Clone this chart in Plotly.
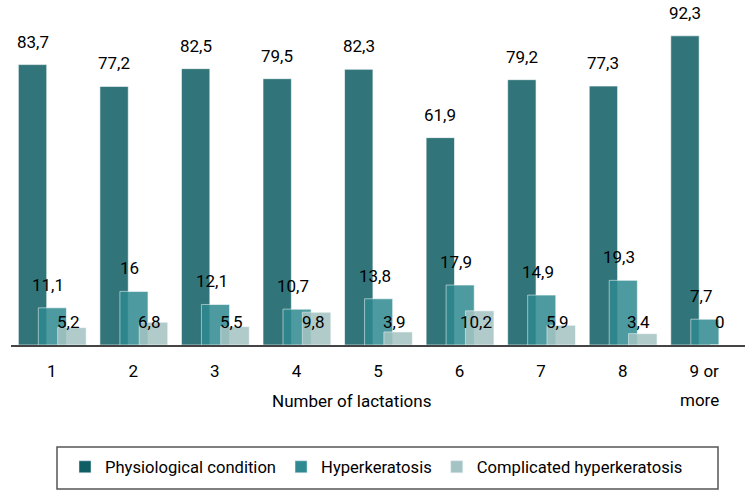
import plotly.graph_objects as go

categories = ["1", "2", "3", "4", "5", "6", "7", "8", "9 or more"]
tick_labels = ["1", "2", "3", "4", "5", "6", "7", "8", "9 or"]
physiological = [83.7, 77.2, 82.5, 79.5, 82.3, 61.9, 79.2, 77.3, 92.3]
hyperkeratosis = [11.1, 16, 12.1, 10.7, 13.8, 17.9, 14.9, 19.3, 7.7]
complicated = [5.2, 6.8, 5.5, 9.8, 3.9, 10.2, 5.9, 3.4, 0]
series_names = ["Physiological condition", "Hyperkeratosis", "Complicated hyperkeratosis"]

legend_colors = ["#0e5e63", "#2e8a90", "#a4c3c3"]
offsets = [-0.41, -0.165, 0.072]
widths = [0.348, 0.345, 0.35]
label_dx = [0, -4, -4]

FONT = "Roboto"
FS = 17
TXT = "#000"
fig = go.Figure()
x_idx = list(range(len(categories)))
all_series = [physiological, hyperkeratosis, complicated]

for s, vals in enumerate(all_series):
    fig.add_trace(go.Bar(
        x=x_idx, y=vals, offset=offsets[s], width=widths[s],
        marker=dict(color=legend_colors[s], opacity=0.85,
                    line=dict(color="rgba(255,255,255,0.6)", width=1)),
        showlegend=False, hoverinfo="skip"))

for s in range(3):
    fig.add_trace(go.Bar(x=[None], y=[None], name=series_names[s],
                         marker=dict(color=legend_colors[s]), showlegend=True))

annotations = []
for s, vals in enumerate(all_series):
    for i, v in enumerate(vals):
        annotations.append(dict(
            x=i + offsets[s] + widths[s] / 2, y=(v if s < 2 else 0),
            xref="x", yref="y", text=f"{v:g}".replace(".", ","),
            showarrow=False, yanchor="bottom", xanchor="center",
            xshift=label_dx[s], yshift=11,
            font=dict(family=FONT, size=FS, color=TXT)))

annotations.append(dict(x=8, y=(345 - 400) / 335, xref="x", yref="paper", text="more",
                        showarrow=False, xshift=-5, yanchor="middle",
                        font=dict(family=FONT, size=FS, color=TXT)))
annotations.append(dict(x=(351 - 11) / 734, y=(345 - 401) / 335, xref="paper", yref="paper",
                        text="Number of lactations", showarrow=False, yanchor="middle",
                        font=dict(family=FONT, size=FS, color=TXT)))

fig.update_layout(
    width=749, height=500,
    margin=dict(l=11, r=4, t=10, b=155, autoexpand=False),
    barmode="overlay",
    plot_bgcolor="white", paper_bgcolor="white",
    font=dict(family=FONT, size=FS, color=TXT),
    xaxis=dict(tickmode="array", tickvals=x_idx, ticktext=tick_labels,
               range=[-0.5, 8.5], showline=True, linecolor="#444", linewidth=2,
               ticks="outside", ticklen=10, tickcolor="rgba(0,0,0,0)",
               showgrid=False, zeroline=False,
               tickfont=dict(family=FONT, size=FS, color=TXT)),
    yaxis=dict(range=[0, 100], visible=False, showgrid=False, zeroline=False),
    legend=dict(orientation="h", x=(65 - 11) / 734, xanchor="left",
                y=(345 - 467) / 335, yanchor="middle",
                font=dict(family=FONT, size=16.6, color=TXT),
                bgcolor="rgba(0,0,0,0)", borderwidth=0),
    shapes=[dict(type="rect", xref="paper", yref="paper",
                 x0=(57 - 11) / 734, x1=(718 - 11) / 734,
                 y0=(345 - 447) / 335, y1=(345 - 489) / 335,
                 line=dict(color="#555", width=1.5), fillcolor="rgba(0,0,0,0)")],
    annotations=annotations,
)

fig.write_html("out.html", config={"displayModeBar": False},
               post_script="document.body.style.margin='0px';document.body.style.overflow='hidden';")
